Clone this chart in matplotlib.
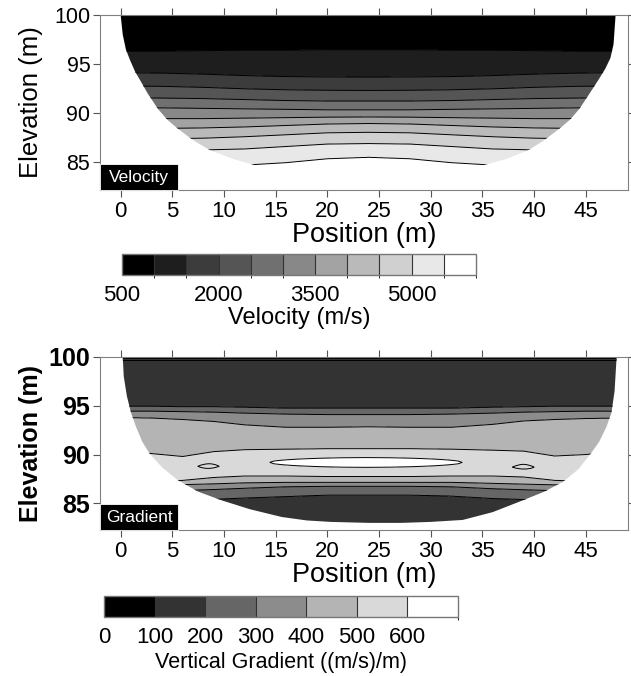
import numpy as np
import matplotlib
matplotlib.use('Agg')
import matplotlib.pyplot as plt
from matplotlib.colors import ListedColormap, BoundaryNorm
from matplotlib.patches import Polygon, Rectangle

plt.rcParams['font.family'] = ['Liberation Sans', 'DejaVu Sans']

# ---------------- Velocity panel data ----------------
vel_levels = [500, 1000, 1500, 2000, 2500, 3000, 3500, 4000, 4500, 5000, 5500, 6000]
vel_ticks = [500, 2000, 3500, 5000]
vel_colors = ['#000000', '#1e1e1e', '#3c3c3c', '#555555', '#707070', '#888888',
              '#a3a3a3', '#bababa', '#d0d0d0', '#e8e8e8', '#ffffff']
vel_pos = [0, 4, 8, 12, 16, 20, 24, 28, 32, 36, 40, 44, 48]
vel_top_value = 600
vel_bottom_value = 5800
vel_e1000 = [96.3, 96.3, 96.35, 96.4, 96.4, 96.45, 96.45, 96.45, 96.4, 96.4, 96.35, 96.3, 96.3]
vel_e1500 = [94.1, 94.05, 93.95, 93.8, 93.7, 93.66, 93.65, 93.66, 93.7, 93.8, 93.95, 94.05, 94.1]
vel_e2000 = [92.75, 92.7, 92.6, 92.45, 92.35, 92.3, 92.28, 92.3, 92.35, 92.45, 92.6, 92.7, 92.75]
vel_e2500 = [91.55, 91.5, 91.45, 91.35, 91.25, 91.2, 91.2, 91.2, 91.25, 91.35, 91.45, 91.5, 91.55]
vel_e3000 = [90.5, 90.5, 90.45, 90.4, 90.35, 90.3, 90.3, 90.3, 90.35, 90.4, 90.45, 90.5, 90.5]
vel_e3500 = [89.4, 89.4, 89.4, 89.45, 89.5, 89.55, 89.57, 89.55, 89.5, 89.45, 89.4, 89.4, 89.4]
vel_e4000 = [88.35, 88.4, 88.45, 88.55, 88.7, 88.85, 88.9, 88.85, 88.7, 88.55, 88.45, 88.4, 88.35]
vel_e4500 = [87.3, 87.35, 87.4, 87.55, 87.75, 87.95, 88.0, 87.95, 87.75, 87.55, 87.4, 87.35, 87.3]
vel_e5000 = [86.1, 86.15, 86.2, 86.3, 86.55, 86.8, 86.85, 86.8, 86.55, 86.3, 86.2, 86.15, 86.1]
vel_e5500 = [84.4, 84.5, 84.6, 84.65, 84.9, 85.3, 85.45, 85.3, 84.9, 84.65, 84.6, 84.5, 84.4]
vel_bnd_x = [0.0, 0.2, 0.5, 0.9, 1.4, 1.9, 2.6, 3.6, 4.5, 5.5, 7.0, 8.6, 10.8, 13.1, 16, 20,
             24, 28, 32, 35, 37.4, 39.5, 41.0, 42.5, 43.5, 44.4, 45.4, 46.2, 46.9, 47.4, 47.7, 47.9]
vel_bnd_y = [100, 98, 96.5, 95.4, 94.2, 93.3, 92.0, 90.4, 89.3, 88.4, 87.2, 86.2, 85.3, 84.6, 83.7, 83.2,
             83.1, 83.2, 83.7, 84.6, 85.3, 86.2, 87.2, 88.4, 89.3, 90.4, 92.0, 93.3, 94.5, 95.6, 97, 100]

# ---------------- Gradient panel data ----------------
grad_levels = [0, 100, 200, 300, 400, 500, 600, 700]
grad_ticks = [0, 100, 200, 300, 400, 500, 600]
grad_colors = ['#000000', '#333333', '#666666', '#8c8c8c', '#b4b4b4', '#d9d9d9', '#ffffff']
grad_small_level = 580
grad_top_value = 30
grad_bottom_value = 150
# band boundaries (elevation of each gradient level) along the profile
grad_pos = [0, 3, 6, 9, 12, 16, 20, 24, 28, 32, 36, 39, 42, 45, 48]
grad_e100 = [99.7] * 15
grad_e200_hi = [94.95, 94.95, 94.9, 94.9, 94.85, 94.75, 94.75, 94.75, 94.75, 94.75, 94.85, 94.9, 94.95, 94.95, 94.95]
grad_e300_hi = [94.45, 94.45, 94.4, 94.35, 94.25, 94.15, 94.1, 94.1, 94.1, 94.15, 94.25, 94.35, 94.4, 94.45, 94.45]
grad_e400_hi = [93.8, 93.75, 93.6, 93.4, 93.05, 92.8, 92.8, 92.85, 92.8, 92.8, 93.1, 93.45, 93.6, 93.7, 93.75]
grad_e500_hi = [90.3, 90.1, 89.8, 90.3, 90.5, 90.55, 90.6, 90.6, 90.6, 90.55, 90.45, 90.35, 89.85, 90.0, 90.3]
grad_e500_lo = [87.2, 87.25, 87.35, 87.65, 87.8, 87.8, 87.75, 87.75, 87.75, 87.8, 87.8, 87.7, 87.35, 87.25, 87.2]
grad_e400_lo = [86.8, 86.85, 86.92, 87.0, 87.1, 87.15, 87.15, 87.15, 87.15, 87.15, 87.05, 86.97, 86.9, 86.85, 86.8]
grad_e300_lo = [86.2, 86.25, 86.32, 86.42, 86.55, 86.7, 86.75, 86.75, 86.75, 86.7, 86.5, 86.4, 86.3, 86.25, 86.2]
grad_e200_lo = [85.3, 85.3, 85.37, 85.42, 85.55, 85.7, 85.85, 85.85, 85.85, 85.75, 85.5, 85.4, 85.35, 85.3, 85.3]
# gradient maximum (elevation and value) along the profile
grad_peak_pos = [0, 3, 6.8, 7.4, 7.8, 8.2, 8.5, 8.8, 9.2, 9.6, 10.2, 12, 14.4, 14.87, 15.8, 17.2, 19.1,
                 21.4, 23.75, 26.1, 28.4, 30.3, 31.7, 32.63, 33.1, 35, 37.4, 37.8, 38.3, 38.7, 39.0,
                 39.3, 39.7, 40.1, 40.6, 42, 45, 48]
grad_peak_e = [89.0, 89.0, 88.85, 88.8, 88.8, 88.8, 88.8, 88.8, 88.8, 88.8, 88.85, 89.0, 89.2, 89.2, 89.2,
               89.2, 89.2, 89.2, 89.2, 89.2, 89.2, 89.2, 89.2, 89.2, 89.2, 89.0, 88.75, 88.72, 88.7,
               88.7, 88.7, 88.7, 88.7, 88.72, 88.75, 88.9, 89.0, 89.0]
grad_peak_v = [560, 562, 570, 578, 589, 596, 598, 596, 589, 578, 570, 572, 599, 612, 622, 633, 643,
               651, 654, 651, 643, 633, 622, 612, 599, 572, 570, 578, 589, 596, 598,
               596, 589, 578, 570, 566, 562, 560]
grad_bnd_x = [0.2, 0.3, 0.6, 1.0, 1.5, 2.1, 2.8, 4.0, 5.5, 7.5, 9.8, 12.5, 15.6, 18.0, 20.3, 24.0,
              27.2, 30.0, 33.1, 36.0, 38.9, 41.0, 42.8, 44.3, 45.5, 46.3, 47.0, 47.5, 47.8, 48.0]
grad_bnd_y = [100, 98, 96, 94.3, 92.8, 91.3, 90.1, 88.7, 87.4, 86.2, 85.3, 84.4, 83.6, 83.25, 83.1, 83.0,
              83.0, 83.1, 83.3, 84.1, 85.3, 86.2, 87.2, 88.5, 90.1, 91.3, 92.8, 94.3, 96.5, 100]

x_ticks = [0, 5, 10, 15, 20, 25, 30, 35, 40, 45]
y_ticks = [85, 90, 95, 100]

xx = np.linspace(0, 48, 961)
yy = np.linspace(81.5, 100.5, 800)


def column_field(knots):
    """knots: list of (positions, elevations, values); scalars allowed."""
    cols_e, cols_v = [], []
    for p, e, v in knots:
        if p is None:
            cols_e.append(np.full_like(xx, e, dtype=float))
            cols_v.append(np.full_like(xx, v, dtype=float))
        else:
            cols_e.append(np.interp(xx, p, e))
            cols_v.append(np.interp(xx, p, v) if np.ndim(v) else np.full_like(xx, v, dtype=float))
    E = np.array(cols_e)
    V = np.array(cols_v)
    Z = np.empty((len(yy), len(xx)))
    for j in range(len(xx)):
        o = np.argsort(E[:, j])
        Z[:, j] = np.interp(yy, E[o, j], V[o, j])
    return Z


vp = vel_pos
Zv = column_field([(None, 81.5, vel_bottom_value), (vp, vel_e5500, 5500), (vp, vel_e5000, 5000),
                   (vp, vel_e4500, 4500), (vp, vel_e4000, 4000), (vp, vel_e3500, 3500),
                   (vp, vel_e3000, 3000), (vp, vel_e2500, 2500), (vp, vel_e2000, 2000),
                   (vp, vel_e1500, 1500), (vp, vel_e1000, 1000), (None, 100.5, vel_top_value)])
gpp = grad_pos
Zg = column_field([(None, 81.5, grad_bottom_value), (gpp, grad_e200_lo, 200), (gpp, grad_e300_lo, 300),
                   (gpp, grad_e400_lo, 400), (gpp, grad_e500_lo, 500),
                   (grad_peak_pos, grad_peak_e, grad_peak_v),
                   (gpp, grad_e500_hi, 500), (gpp, grad_e400_hi, 400), (gpp, grad_e300_hi, 300),
                   (gpp, grad_e200_hi, 200), (gpp, grad_e100, 100), (None, 100.5, grad_top_value)])

W, H = 631, 676
fig = plt.figure(figsize=(W / 100, H / 100), dpi=100)


def rect(x0, y0, x1, y1):
    return [x0 / W, 1 - y1 / H, (x1 - x0) / W, (y1 - y0) / H]


ax1 = fig.add_axes(rect(100, 15, 628, 190))
ax2 = fig.add_axes(rect(100, 357, 628, 530))
cax1 = fig.add_axes(rect(122, 254, 476, 275))
cax2 = fig.add_axes(rect(104, 596, 458, 617))

spine_col = '#808080'


def panel(ax, Z, levels, colors, bx, by, ylim, bold_y, label):
    cmap = ListedColormap(colors)
    norm = BoundaryNorm(levels, cmap.N)
    cf = ax.contourf(xx, yy, Z, levels=levels, cmap=cmap, norm=norm)
    cl = ax.contour(xx, yy, Z, levels=levels[1:-1], colors='black', linewidths=0.7)
    poly = np.column_stack([list(bx) + [bx[-1], bx[0]], list(by) + [101, 101]])
    clip = Polygon(poly, closed=True, transform=ax.transData, facecolor='none', edgecolor='none')
    cf.set_clip_path(clip)
    cl.set_clip_path(clip)
    ax.set_xlim(-2.0, 49.1)
    ax.set_ylim(*ylim)
    ax.set_xticks(x_ticks)
    ax.set_yticks(y_ticks)
    for s in ax.spines.values():
        s.set_color(spine_col)
        s.set_linewidth(0.8)
    ax.tick_params(axis='x', which='both', top=True, bottom=True, direction='out', length=5,
                   color='#555555', labelsize=16, pad=3)
    ax.tick_params(axis='y', which='both', left=True, right=True, direction='out', length=5,
                   color='#555555', labelsize=18 if bold_y else 15.5, pad=2)
    if bold_y:
        for t in ax.get_yticklabels():
            t.set_fontweight('bold')
    ax.set_xlabel('Position (m)', fontsize=19.5)
    ax.xaxis.set_label_coords(0.5, -0.26)
    ax.xaxis.label.set_va('center')
    ax.set_ylabel('Elevation (m)', fontsize=18.5 if not bold_y else 18,
                  fontweight='bold' if bold_y else 'normal')
    ax.yaxis.set_label_coords(-0.13, 0.5)
    ax.yaxis.label.set_va('center')
    ax.add_patch(Rectangle((0, 0), 0.1475, 0.148, transform=ax.transAxes, facecolor='black',
                           edgecolor='white', linewidth=0.6, zorder=5, clip_on=False))
    ax.text(0.074, 0.072, label, transform=ax.transAxes, color='white', fontsize=12.5,
            ha='center', va='center', zorder=6)
    return cf


cf1 = panel(ax1, Zv, vel_levels, vel_colors, vel_bnd_x, vel_bnd_y, (82.1, 100), False, 'Velocity')
cf2 = panel(ax2, Zg, grad_levels, grad_colors, grad_bnd_x, grad_bnd_y, (82.27, 100), True, 'Gradient')

# small closed contours at the flanks of the gradient maximum
for sel in (xx <= 12, xx >= 35):
    ax2.contour(xx[sel], yy, Zg[:, sel], levels=[grad_small_level], colors='black', linewidths=0.7)


def cbar(cf, cax, ticks, title, tsize):
    cb = fig.colorbar(cf, cax=cax, orientation='horizontal', ticks=ticks, drawedges=True)
    cb.outline.set_edgecolor('#777777')
    cb.outline.set_linewidth(1.0)
    cb.dividers.set_color('#333333')
    cb.dividers.set_linewidth(0.8)
    cax.tick_params(length=0, labelsize=16, pad=7)
    cax.set_xlabel(title, fontsize=tsize)
    return cb


cbar(cf1, cax1, vel_ticks, 'Velocity (m/s)', 17)
cax1.xaxis.set_label_coords(0.5, -2.05)
cax1.xaxis.label.set_va('center')
cbar(cf2, cax2, grad_ticks, 'Vertical Gradient ((m/s)/m)', 15.5)
cax2.xaxis.set_label_coords(0.5, -2.15)
cax2.xaxis.label.set_va('center')

fig.savefig('out.png', dpi=100)
